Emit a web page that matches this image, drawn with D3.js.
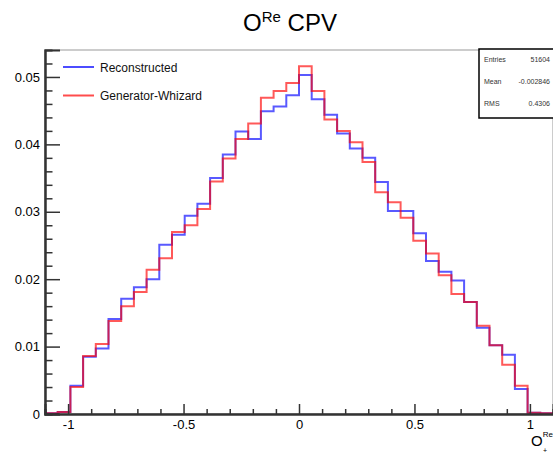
<!DOCTYPE html>
<html>
<head>
<meta charset="utf-8">
<script src="https://cdn.jsdelivr.net/npm/d3@7"></script>
<style>
  body { margin: 0; background: #fff; }
  svg { display: block; font-family: "Liberation Sans", Arial, sans-serif; }
</style>
</head>
<body>
<svg id="chart"></svg>
<script>
// histogram binning (ROOT style, 40 bins on [-1.1, 1.1])
var xMin = -1.1, xMax = 1.1, nBins = 40;

// bin contents
var reconstructed = [0.0001, 0.0003, 0.0042, 0.0085, 0.0097, 0.0141, 0.0171, 0.0188, 0.0200, 0.0251,
                     0.0266, 0.0294, 0.0312, 0.0350, 0.0385, 0.0419, 0.0408, 0.0449, 0.0456, 0.0473,
                     0.0503, 0.0467, 0.0444, 0.0416, 0.0394, 0.0380, 0.0344, 0.0301, 0.0301, 0.0268,
                     0.0227, 0.0211, 0.0198, 0.0166, 0.0128, 0.0102, 0.0088, 0.0037, 0.0002, 0.0001];
var generator = [0.0001, 0.0003, 0.0040, 0.0086, 0.0104, 0.0138, 0.0160, 0.0181, 0.0214, 0.0231,
                 0.0270, 0.0280, 0.0304, 0.0345, 0.0379, 0.0408, 0.0431, 0.0469, 0.0479, 0.0491,
                 0.0516, 0.0479, 0.0437, 0.0420, 0.0403, 0.0374, 0.0329, 0.0314, 0.0291, 0.0257,
                 0.0238, 0.0206, 0.0178, 0.0166, 0.0131, 0.0102, 0.0073, 0.0042, 0.0002, 0.0001];

var seriesNames = ["Reconstructed", "Generator-Whizard"];
var xTicks = [-1, -0.5, 0, 0.5, 1];
var xTickLabels = ["-1", "-0.5", "0", "0.5", "1"];
var xMinorTicks = [-1.1, -0.9, -0.8, -0.7, -0.6, -0.4, -0.3, -0.2, -0.1, 0.1, 0.2, 0.3, 0.4, 0.6, 0.7, 0.8, 0.9, 1.1];
var yTicks = [0, 0.01, 0.02, 0.03, 0.04, 0.05];
var yTickLabels = ["0", "0.01", "0.02", "0.03", "0.04", "0.05"];
var yMinorTicks = [0.002, 0.004, 0.006, 0.008, 0.012, 0.014, 0.016, 0.018, 0.022, 0.024, 0.026, 0.028,
                   0.032, 0.034, 0.036, 0.038, 0.042, 0.044, 0.046, 0.048, 0.052];
var statsLabels = ["Entries", "Mean", "RMS"];
var statsValues = ["51604", "-0.002846", "0.4306"];

var screen = { width: 553, height: 454 };
var margins = { top: 50, bottom: 40, left: 45, right: 0 };
var width = screen.width - margins.left - margins.right;
var height = screen.height - margins.top - margins.bottom;

var svg = d3.select('#chart')
            .attr('width', screen.width)
            .attr('height', screen.height);

var xScale = d3.scaleLinear().domain([xMin, xMax]).range([0, width]);
var yScale = d3.scaleLinear().domain([0, 0.054]).range([height, 0]);

var plot = svg.append('g')
              .attr('transform', 'translate(' + margins.left + ',' + margins.top + ')');

svg.append('defs').append('clipPath').attr('id', 'clip')
   .append('rect').attr('x', 0).attr('y', 0).attr('width', width).attr('height', height);

// frame
plot.append('rect')
    .attr('x', 0).attr('y', 0)
    .attr('width', width).attr('height', height)
    .attr('fill', 'none')
    .attr('stroke', '#999')
    .attr('stroke-width', 1);

// histograms as step lines
var binWidth = (xMax - xMin) / nBins;
var stepLine = d3.line()
                 .x(function(d) { return xScale(d[0]); })
                 .y(function(d) { return yScale(d[1]); })
                 .curve(d3.curveStepAfter);

var toSteps = function(values) {
  var pts = values.map(function(v, i) { return [xMin + i * binWidth, v]; });
  pts.push([xMax, values[values.length - 1]]);
  return pts;
};

var colors = ['#0000ff', '#ff0000'];
[reconstructed, generator].forEach(function(values, i) {
  plot.append('path')
      .attr('clip-path', 'url(#clip)')
      .attr('d', stepLine(toSteps(values)))
      .attr('fill', 'none')
      .attr('stroke', colors[i])
      .attr('stroke-opacity', 0.65)
      .attr('stroke-width', 2);
});

// x axis
var xAxis = d3.axisBottom(xScale)
              .tickValues(xTicks)
              .tickSize(-10)
              .tickPadding(6)
              .tickFormat(function(d, i) { return xTickLabels[i]; });
var xA = plot.append('g').classed('xAxis', true)
             .attr('transform', 'translate(0,' + height + ')')
             .call(xAxis);
plot.append('g').classed('xMinor', true)
    .attr('transform', 'translate(0,' + height + ')')
    .call(d3.axisBottom(xScale).tickValues(xMinorTicks).tickSize(-5).tickFormat(''));

// y axis
var yAxis = d3.axisLeft(yScale)
              .tickValues(yTicks)
              .tickSize(-15)
              .tickPadding(5)
              .tickFormat(function(d, i) { return yTickLabels[i]; });
var yA = plot.append('g').classed('yAxis', true).call(yAxis);
plot.append('g').classed('yMinor', true)
    .call(d3.axisLeft(yScale).tickValues(yMinorTicks).tickSize(-7.5).tickFormat(''));

svg.selectAll('.xAxis path, .xMinor path, .yAxis path, .yMinor path')
   .attr('stroke', '#333').attr('stroke-width', 2);
svg.selectAll('.tick line').attr('stroke', '#333').attr('stroke-width', 1.5);
svg.selectAll('.tick text')
   .attr('font-family', '"Liberation Sans", Arial, sans-serif')
   .attr('font-size', 13)
   .attr('fill', '#000');

// title
var title = svg.append('text')
               .attr('x', 290).attr('y', 31)
               .attr('text-anchor', 'middle')
               .attr('font-size', 24)
               .attr('fill', '#000');
title.append('tspan').text('O');
title.append('tspan').attr('dy', -9).attr('font-size', 15).text('Re');
title.append('tspan').attr('dy', 9).text(' CPV');

// x axis title (sits at the right edge like the original)
var xTitle = svg.append('text')
                .attr('x', 531).attr('y', 446)
                .attr('font-size', 15)
                .attr('fill', '#000');
xTitle.append('tspan').text('O');
xTitle.append('tspan').attr('dy', -9).attr('font-size', 8).text('Re');
svg.append('text').attr('x', 543).attr('y', 453).attr('font-size', 7).text('+');

// legend
var legend = svg.append('g');
seriesNames.forEach(function(name, i) {
  var ly = 67 + i * 28.5;
  legend.append('line')
        .attr('x1', 63).attr('x2', 94)
        .attr('y1', ly).attr('y2', ly)
        .attr('stroke', colors[i])
        .attr('stroke-opacity', 0.7)
        .attr('stroke-width', 2);
  legend.append('text')
        .attr('x', 100).attr('y', ly + 4.5)
        .attr('font-size', 12)
        .attr('fill', '#111')
        .text(name);
});

// stats box
var stats = svg.append('g');
stats.append('rect')
     .attr('x', 479).attr('y', 49)
     .attr('width', 80).attr('height', 69)
     .attr('fill', '#fff')
     .attr('stroke', '#000')
     .attr('stroke-width', 1.5);
statsLabels.forEach(function(lab, i) {
  var sy = 62 + i * 22;
  stats.append('text').attr('x', 484).attr('y', sy)
       .attr('font-size', 7).attr('fill', '#333').text(lab);
  stats.append('text').attr('x', 550).attr('y', sy)
       .attr('text-anchor', 'end')
       .attr('font-size', 7).attr('fill', '#333').text(statsValues[i]);
});
</script>
</body>
</html>
